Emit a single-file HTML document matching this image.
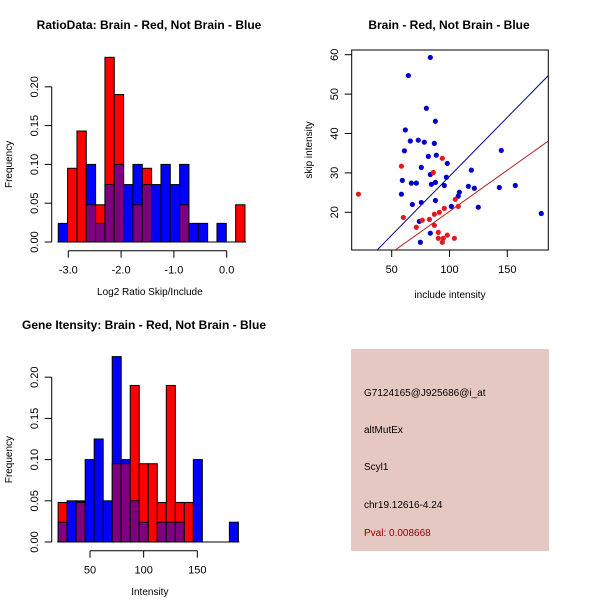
<!DOCTYPE html>
<html><head><meta charset="utf-8"><style>
body{margin:0;background:#fff}
svg{display:block;font-family:"Liberation Sans",sans-serif}
</style></head><body>
<svg id="c" width="600" height="600" viewBox="0 0 600 600"></svg>
<script>
// Panel 1: ratio histogram
const ratioBinStart = -3.19;
const ratioBinWidth = 0.1768;
const ratioRed  = [0,0.095,0.143,0.048,0.048,0.238,0.19,0,0.048,0.095,0,0,0,0.048,0,0,0,0,0,0.048];
const ratioBlue = [0.024,0,0,0.10,0.024,0.074,0.10,0.074,0.10,0.074,0.074,0.10,0.074,0.10,0.024,0.024,0,0.024,0,0];
const ratioXTicks = [-3.0,-2.0,-1.0,0.0];
const ratioXTickLabels = ["-3.0","-2.0","-1.0","0.0"];
const freqTicks = [0,0.05,0.10,0.15,0.20];
const freqTickLabels = ["0.00","0.05","0.10","0.15","0.20"];
// Panel 3: intensity histogram
const intBinStart = 20.3;
const intBinWidth = 8.4;
const intRed  = [0.048,0,0.048,0,0,0,0.095,0.095,0.19,0.095,0.095,0.048,0.19,0.048,0.048,0,0,0,0,0];
const intBlue = [0.024,0.05,0.05,0.10,0.125,0.05,0.225,0.10,0.05,0.024,0,0.024,0.024,0.024,0,0.10,0,0,0,0.024];
const intXTicks = [50,100,150];
const intXTickLabels = ["50","100","150"];
// Panel 2: scatter
const blueX = [83.4,64.4,80,87.8,61.8,66.1,73,78.2,86.9,61,144.8,81.7,88.6,98.1,75.6,118.9,83.4,59.2,97.3,67,71.3,84.3,87.8,95.5,116.3,121.5,143.1,156.9,58.4,108.5,107.6,67.9,75.6,87.8,101.6,124.9,179.4,73.9,83.4,74.8];
const blueY = [59.3,54.7,46.4,43.1,40.9,38.1,38.3,37.8,37.5,35.6,35.7,34.2,34.5,32.4,31.4,30.7,29.6,28.1,28.9,27.4,27.4,27.1,27.6,26.8,26.6,26.1,26.3,26.8,24.6,25.1,24.1,22.0,22.5,23.0,21.5,21.3,19.7,17.7,14.7,12.4];
const redX = [21.2,58.4,93.8,86.0,105,107.6,95.5,91.2,86.9,60.1,76.5,82.6,86.9,71.3,90.3,98.1,90.3,94.6,104.2,93.8];
const redY = [24.6,31.7,33.7,30.1,23.3,21.5,21.0,20.0,19.5,18.7,18.0,18.2,16.7,16.2,14.9,14.2,13.4,13.4,13.4,12.4];
const blueFit = [-0.76,0.299];
const redFit = [-0.66,0.209];
const scX = [50,100,150];
const scXLabels = ["50","100","150"];
const scY = [20,30,40,50,60];
const scYLabels = ["20","30","40","50","60"];

const svg = document.getElementById('c');
const NS = 'http://www.w3.org/2000/svg';
function mk(tag, attrs, parent){const e=document.createElementNS(NS,tag);for(const k in attrs)e.setAttribute(k,attrs[k]);(parent||svg).appendChild(e);return e;}
function txt(x,y,s,size,opts){const t=mk('text',Object.assign({x:x,y:y,'font-size':size,'text-anchor':'middle',fill:'#000'},opts||{}));t.textContent=s;return t;}

function hist(name, binStart, binW, red, blue, xs, ys, xTicks, xLabels, xTitle, title, titleX, titleY, xTickRange){
  const g = mk('g',{});
  
  
  for(let i=0;i<red.length;i++){
    const x0=xs(binStart+i*binW), x1=xs(binStart+(i+1)*binW);
    const r=red[i], b=blue[i];
    const hi=Math.max(r,b), lo=Math.min(r,b);
    if(hi>0){
      const bar=mk('rect',{x:x0,y:ys(hi),width:x1-x0,height:ys(0)-ys(hi),fill:r>=b?'#ff0000':'#0000ff',stroke:'#000','stroke-width':1},g);
      
      
    }
    if(lo>0){
      const ov=mk('rect',{x:x0,y:ys(lo),width:x1-x0,height:ys(0)-ys(lo),fill:'#7f007f',stroke:'#000','stroke-width':1},g);
      
      
    }
  }
  const L=xs(binStart), R=xs(binStart+red.length*binW);
  mk('line',{x1:L-1,x2:R+1,y1:ys(0),y2:ys(0),stroke:'#000'},g);
  // y axis
  const ya=mk('g',{},g);
  
  
  mk('line',{x1:51.7,x2:51.7,y1:ys(0),y2:ys(0.2),stroke:'#000'},ya);
  freqTicks.forEach((v,i)=>{
    mk('line',{x1:44.7,x2:51.7,y1:ys(v),y2:ys(v),stroke:'#000'},ya);
    txt(38,ys(v),freqTickLabels[i],11,{transform:'rotate(-90 38 '+ys(v)+')'},ya);
  });
  const yt=txt(12,ys(0.1),'Frequency',10,{transform:'rotate(-90 12 '+ys(0.1)+')'});
  
  
  // x axis
  const xa=mk('g',{},g);
  
  
  const ay=ys(0)+8.7;
  mk('line',{x1:xs(xTicks[0]),x2:xs(xTicks[xTicks.length-1]),y1:ay,y2:ay,stroke:'#000'},xa);
  xTicks.forEach((v,i)=>{
    mk('line',{x1:xs(v),x2:xs(v),y1:ay,y2:ay+7,stroke:'#000'},xa);
    txt(xs(v),ay+23,xLabels[i],11,{},xa);
  });
  const xt=txt((51.7+248)/2,ys(0)+53,xTitle,10);
  
  
  const tt=txt(titleX,titleY,title,12,{'font-weight':'bold'});
  
  
}

// Panel 1
const xs1=v=>68.3+(v+3)*52.8, ys1=v=>242-v*776;
hist('ratio-histogram', ratioBinStart, ratioBinWidth, ratioRed, ratioBlue, xs1, ys1, ratioXTicks, ratioXTickLabels, 'Log2 Ratio Skip/Include', 'RatioData: Brain - Red, Not Brain - Blue', 149, 29);
// Panel 3
const xs3=v=>90+(v-50)*1.073, ys3=v=>542-v*824;
hist('intensity-histogram', intBinStart, intBinWidth, intRed, intBlue, xs3, ys3, intXTicks, intXTickLabels, 'Intensity', 'Gene Itensity: Brain - Red, Not Brain - Blue', 144, 329);

// Panel 2 scatter
const sx=v=>391.7+(v-50)*1.156, sy=v=>212.3-(v-20)*3.94;
const sg=mk('g',{});


const clip=mk('clipPath',{id:'sc'},sg); mk('rect',{x:351.7,y:50,width:196.6,height:200},clip);
const fr=mk('rect',{x:351.7,y:50,width:196.6,height:200,fill:'none',stroke:'#000'},sg);


const lg=mk('g',{'clip-path':'url(#sc)'},sg);
[[blueFit,'#00008b','blue-fit-line'],[redFit,'#b22222','red-fit-line']].forEach(([f,c,n])=>{
  const l=mk('line',{x1:sx(0),y1:sy(f[0]),x2:sx(200),y2:sy(f[0]+f[1]*200),stroke:c,'stroke-width':1},lg);
  
  
});
blueX.forEach((v,i)=>{const p=mk('circle',{cx:sx(v),cy:sy(blueY[i]),r:2.6,fill:'#0000cd'},sg);
  
  });
redX.forEach((v,i)=>{const p=mk('circle',{cx:sx(v),cy:sy(redY[i]),r:2.6,fill:'#e31a1c'},sg);
  
  });
scX.forEach((v,i)=>{mk('line',{x1:sx(v),x2:sx(v),y1:250,y2:257,stroke:'#000'},sg);txt(sx(v),273,scXLabels[i],11,{},sg);});
scY.forEach((v,i)=>{mk('line',{x1:344.7,x2:351.7,y1:sy(v),y2:sy(v),stroke:'#000'},sg);txt(338,sy(v),scYLabels[i],11,{transform:'rotate(-90 338 '+sy(v)+')'},sg);});
const sxt=txt(450,298,'include intensity',10);  
const syt=txt(312,150,'skip intensity',10,{transform:'rotate(-90 312 150)'});  
const st=txt(449,29,'Brain - Red, Not Brain - Blue',12,{'font-weight':'bold'});  

// Info panel
const ig=mk('g',{});


mk('rect',{x:351,y:349,width:198,height:202,fill:'#e6c8c2'},ig);
[['G7124165@J925686@i_at',396,'#000'],['altMutEx',433,'#000'],['Scyl1',470,'#000'],['chr19.12616-4.24',508,'#000'],['Pval: 0.008668',536,'#8b0000']].forEach(([s,y,c])=>{
  const t=txt(364,y,s,10,{'text-anchor':'start',fill:c},ig);
  
  
});
</script>
</body></html>
